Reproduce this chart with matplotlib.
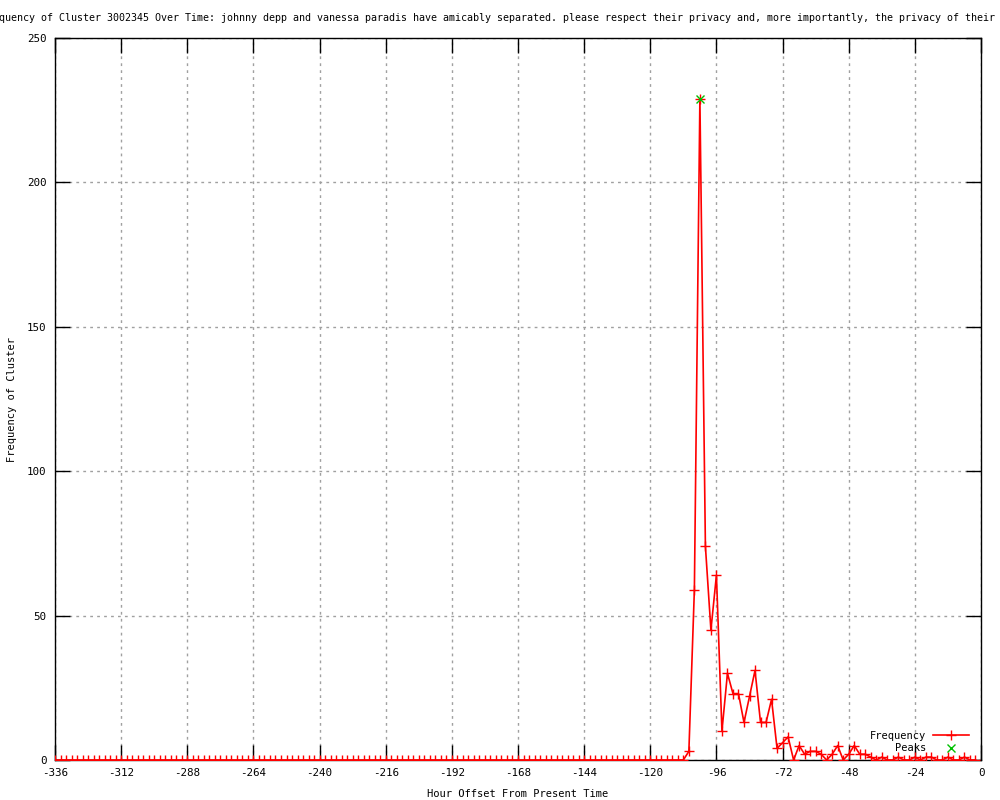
import matplotlib
matplotlib.use("Agg")
import matplotlib.pyplot as plt

plt.rcParams['axes.unicode_minus'] = False
plt.rcParams['font.family'] = ['DejaVu Sans Mono']

title = ("Frequency of Cluster 3002345 Over Time: johnny depp and vanessa paradis have "
         "amicably separated. please respect their privacy and, more importantly, "
         "the privacy of their children.")

hours = list(range(-336, 0, 2))
nonzero = {
    -106: 3, -104: 59, -102: 229, -100: 74, -98: 45, -96: 64, -94: 10, -92: 30,
    -90: 23, -88: 23, -86: 13, -84: 22, -82: 31, -80: 13, -78: 13, -76: 21,
    -74: 4, -72: 6, -70: 8, -68: 0, -66: 5, -64: 2, -62: 3, -60: 3, -58: 2,
    -56: 0, -54: 2, -52: 5, -50: 0, -48: 2, -46: 5, -44: 2, -42: 2, -40: 1,
    -38: 0, -36: 1, -34: 0, -32: 0, -30: 1, -28: 0, -26: 0, -24: 1, -22: 0,
    -20: 1, -18: 1, -16: 0, -14: 0, -12: 1, -10: 0, -8: 0, -6: 1, -4: 0, -2: 0,
}
freq = [nonzero.get(h, 0) for h in hours]

peak_x = [-102]
peak_y = [229]

xticks = list(range(-336, 1, 24))
yticks = list(range(0, 251, 50))

fig = plt.figure(figsize=(10, 8), dpi=100)
ax = fig.add_axes([0.055, 0.05, 0.926, 0.9025])

ax.plot(hours, freq, color='#ff0000', linewidth=1.2, marker='+', markersize=7,
        markeredgewidth=1.0, label='Frequency', zorder=3)
ax.plot(peak_x, peak_y, linestyle='none', color='#00c000', marker='x', markersize=6,
        markeredgewidth=1.0, label='Peaks', zorder=4)

ax.set_xlim(-336, 0)
ax.set_ylim(0, 250)
ax.set_xticks(xticks)
ax.set_yticks(yticks)
ax.tick_params(direction='in', length=11, width=1, top=True, right=True,
               labelsize=7.8, colors='black', pad=6)
ax.grid(True, color='#a0a0a0', linestyle=(0, (2, 3)), linewidth=1)
for s in ax.spines.values():
    s.set_linewidth(1)
    s.set_color('black')

ax.set_xlabel('Hour Offset From Present Time', fontsize=7.5, labelpad=8)
ax.set_ylabel('Frequency of Cluster', fontsize=7.5, labelpad=7)

fig.text(0.518, 1 - 18 / 800, title, ha='center', va='center', fontsize=7.2)

leg = ax.legend(loc='lower right', bbox_to_anchor=(0.995, -0.001), frameon=False,
                markerfirst=False, fontsize=7.5, handlelength=3.5,
                handletextpad=0.6, labelspacing=0.25, borderaxespad=0.3)

fig.savefig('out.png', dpi=100)
